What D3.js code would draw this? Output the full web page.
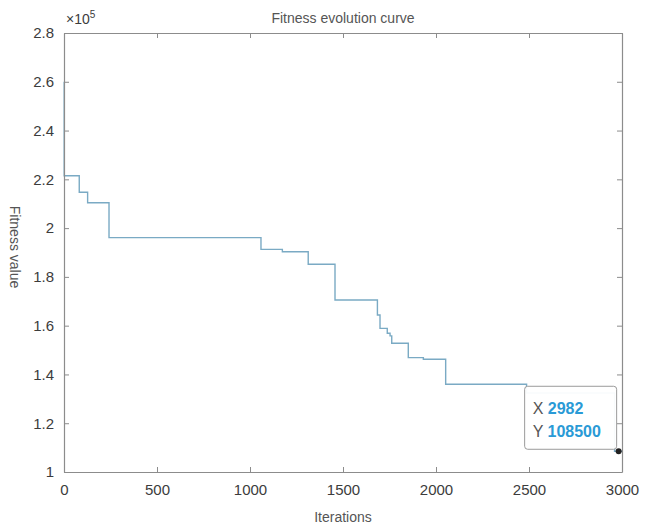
<!doctype html>
<html>
<head>
<script src="https://d3js.org/d3.v7.min.js"></script>
<style>
  body { margin: 0; background: #fff; }
  text { font-family: "Liberation Sans", Arial, Helvetica, sans-serif; }
</style>
</head>
<body>
<svg width="654" height="530"></svg>
<script>
// step curve: value holds from iterations[i] until iterations[i+1]
var iterations = [0, 1, 82, 127, 242, 1059, 1174, 1313, 1457, 1685, 1699, 1738, 1753, 1762, 1851, 1932, 2052, 2487, 2960, 2982, 3000];
var fitness = [260000, 221500, 214700, 210400, 196100, 191300, 190300, 185200, 170500, 164400, 158900, 156900, 155800, 152800, 146900, 146200, 136000, 132400, 108500, 108500, 108500];

var xTicks = [0, 500, 1000, 1500, 2000, 2500, 3000];
var yTicks = [100000, 120000, 140000, 160000, 180000, 200000, 220000, 240000, 260000, 280000];
var yTickLabels = ["1", "1.2", "1.4", "1.6", "1.8", "2", "2.2", "2.4", "2.6", "2.8"];

var tipPoint = [2982, 108500];

var svg = d3.select("svg");
var plotL = 64, plotR = 622, plotT = 33, plotB = 472;

var x = d3.scaleLinear().domain([0, 3000]).range([plotL, plotR]);
var y = d3.scaleLinear().domain([100000, 280000]).range([plotB, plotT]);

var axisColor = "#8c8c8c";
var labelColor = "#3c3c3c";

var data = iterations.map(function(d, i) { return [d, fitness[i]]; });

// curve
var line = d3.line()
    .x(function(d) { return x(d[0]); })
    .y(function(d) { return y(d[1]); })
    .curve(d3.curveStepAfter);

svg.append("path")
    .datum(data)
    .attr("d", line)
    .style("fill", "none")
    .style("stroke", "#7aaac4")
    .style("stroke-width", 1.4);

// axes box with inner ticks (matlab style)
var g = svg.append("g");
g.append("g")
    .attr("transform", "translate(0," + plotB + ")")
    .call(d3.axisBottom(x).tickValues(xTicks).tickSizeInner(-5).tickSizeOuter(0).tickPadding(12).tickFormat(d3.format("d")));
g.append("g")
    .attr("transform", "translate(0," + plotT + ")")
    .call(d3.axisTop(x).tickValues(xTicks).tickSizeInner(-5).tickSizeOuter(0).tickFormat(""));
g.append("g")
    .attr("transform", "translate(" + plotL + ",0)")
    .call(d3.axisLeft(y).tickValues(yTicks).tickSizeInner(-5).tickSizeOuter(0).tickPadding(10)
        .tickFormat(function(d, i) { return yTickLabels[i]; }));
g.append("g")
    .attr("transform", "translate(" + plotR + ",0)")
    .call(d3.axisRight(y).tickValues(yTicks).tickSizeInner(-5).tickSizeOuter(0).tickFormat(""));

g.selectAll(".domain").style("stroke", axisColor).style("stroke-width", 1.2);
g.selectAll(".tick line").style("stroke", axisColor);
g.selectAll(".tick text")
    .style("font-size", "15px")
    .style("fill", labelColor);

// exponent
var ex = svg.append("text")
    .attr("x", plotL + 2)
    .attr("y", 24)
    .style("font-size", "14px")
    .style("fill", labelColor);
ex.append("tspan").text("\u00d710");
ex.append("tspan").attr("dy", -6).style("font-size", "10px").text("5");

// title
svg.append("text")
    .attr("x", (plotL + plotR) / 2)
    .attr("y", 23)
    .attr("text-anchor", "middle")
    .style("font-size", "14px")
    .style("fill", "#555")
    .text("Fitness evolution curve");

// x label
svg.append("text")
    .attr("x", (plotL + plotR) / 2)
    .attr("y", 522)
    .attr("text-anchor", "middle")
    .style("font-size", "14px")
    .style("fill", "#555")
    .text("Iterations");

// y label
svg.append("text")
    .attr("transform", "translate(10,247)rotate(90)")
    .attr("text-anchor", "middle")
    .style("font-size", "14px")
    .style("fill", "#555")
    .text("Fitness value");

// data tip
var px = x(tipPoint[0]), py = y(tipPoint[1]);
var tw = 92, th = 63;
var tip = svg.append("g").attr("transform", "translate(" + (px - 2 - tw) + "," + (py - 2 - th) + ")");
tip.append("rect")
    .attr("width", tw)
    .attr("height", th)
    .attr("rx", 3)
    .style("fill", "#fff")
    .style("fill-opacity", 0.95)
    .style("stroke", "#9a9a9a")
    .style("stroke-width", 1);

function tipLine(name, val, yy) {
    var t = tip.append("text")
        .attr("x", 8)
        .attr("y", yy)
        .style("font-size", "16px");
    t.append("tspan").style("fill", "#555").text(name + " ");
    t.append("tspan").style("fill", "#2a9ad6").style("font-weight", "bold").text(val);
}
tipLine("X", tipPoint[0], 28);
tipLine("Y", tipPoint[1], 51);

svg.append("circle")
    .attr("cx", px)
    .attr("cy", py)
    .attr("r", 3)
    .style("fill", "#222");
</script>
</body>
</html>
